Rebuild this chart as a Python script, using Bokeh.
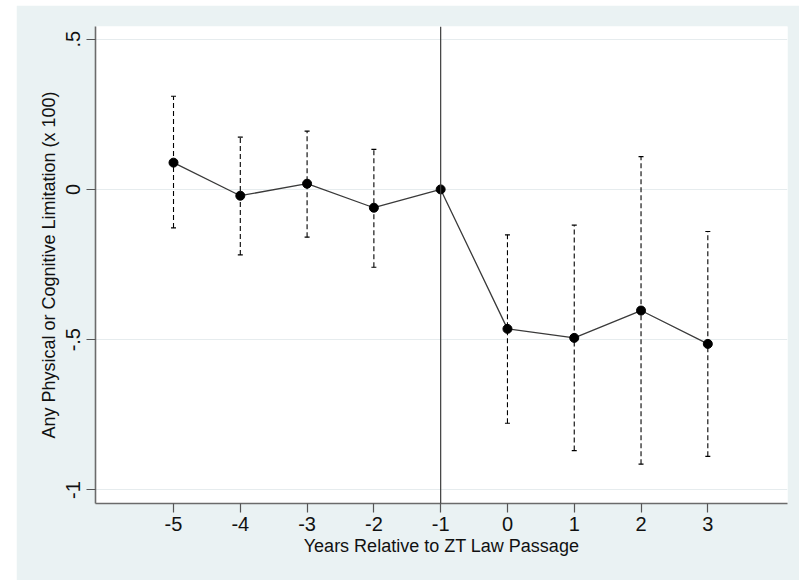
import math
from bokeh.plotting import figure
from bokeh.models import Range1d, FixedTicker, Whisker, ColumnDataSource, Span, TeeHead, Spacer
from bokeh.layouts import row, column
from bokeh.embed import file_html
from bokeh.resources import INLINE

years = [-5, -4, -3, -2, -1, 0, 1, 2, 3]
coef = [0.089, -0.021, 0.019, -0.061, 0.0, -0.464, -0.494, -0.403, -0.514]
ci_low = [-0.128, -0.218, -0.159, -0.259, math.nan, -0.778, -0.869, -0.914, -0.888]
ci_high = [0.310, 0.174, 0.194, 0.133, math.nan, -0.151, -0.119, 0.109, -0.140]
y_ticks = [-1, -0.5, 0, 0.5]
y_tick_labels = ["-1", "-.5", "0", ".5"]
x_ticks = [-5, -4, -3, -2, -1, 0, 1, 2, 3]
x_tick_labels = ["-5", "-4", "-3", "-2", "-1", "0", "1", "2", "3"]
event_year = -1

FONT = "Liberation Sans"

p = figure(width=783, height=575, output_backend="svg", toolbar_location=None,
           x_range=Range1d(-6.168, 4.193), y_range=Range1d(-1.045, 0.542),
           min_border_left=79, min_border_right=12, min_border_top=21, min_border_bottom=77)
p.background_fill_color = "white"
p.border_fill_color = "#EAF2F3"
p.outline_line_color = None

# grid
p.xgrid.visible = False
p.ygrid.ticker = FixedTicker(ticks=y_ticks)
p.ygrid.grid_line_color = "#E6ECEE"
p.ygrid.grid_line_width = 1.2

# axes
p.xaxis.ticker = FixedTicker(ticks=x_ticks)
p.xaxis.major_label_overrides = {t: l for t, l in zip(x_ticks, x_tick_labels)}
p.yaxis.ticker = FixedTicker(ticks=y_ticks)
p.yaxis.major_label_overrides = {t: l for t, l in zip(y_ticks, y_tick_labels)}
p.yaxis.major_label_orientation = "vertical"
for ax in (p.xaxis, p.yaxis):
    ax.axis_line_color = "#6b6b6b"
    ax.axis_line_width = 1.6
    ax.major_tick_line_color = "#555555"
    ax.major_tick_line_width = 1.2
    ax.major_tick_out = 9
    ax.major_tick_in = 0
    ax.minor_tick_line_color = None
    ax.major_label_text_font = FONT
    ax.major_label_text_font_size = "20px"
    ax.major_label_text_color = "#111111"
    ax.axis_label_text_font = FONT
    ax.axis_label_text_font_size = "18px"
    ax.axis_label_text_font_style = "normal"
    ax.axis_label_text_color = "#111111"
p.xaxis.major_label_standoff = 4
p.yaxis.major_label_standoff = 6
p.xaxis.axis_label = "Years Relative to ZT Law Passage"
p.yaxis.axis_label = "Any Physical or Cognitive Limitation (x 100)"
p.xaxis.axis_label_standoff = 2
p.yaxis.axis_label_standoff = 5

# vertical event line
p.add_layout(Span(location=event_year, dimension="height", line_color="#3c3c3c", line_width=1.2))

# error bars
keep = [i for i in range(len(years)) if not math.isnan(ci_low[i])]
src = ColumnDataSource(data=dict(
    x=[years[i] for i in keep],
    lo=[ci_low[i] for i in keep],
    hi=[ci_high[i] for i in keep],
))
wh = Whisker(source=src, base="x", lower="lo", upper="hi", dimension="height",
             line_color="black", line_width=1.1, line_dash="5 3",
             upper_head=TeeHead(size=5, line_color="black", line_width=1.2),
             lower_head=TeeHead(size=5, line_color="black", line_width=1.2))
p.add_layout(wh)

# connected line and points
p.line(years, coef, line_color="#3a3a3a", line_width=1.3)
p.scatter(years, coef, size=9, fill_color="black", line_color="black")

layout = column(Spacer(width=10, height=5), row(Spacer(width=16, height=10), p))
open("out.html", "w").write(file_html(layout, INLINE))
